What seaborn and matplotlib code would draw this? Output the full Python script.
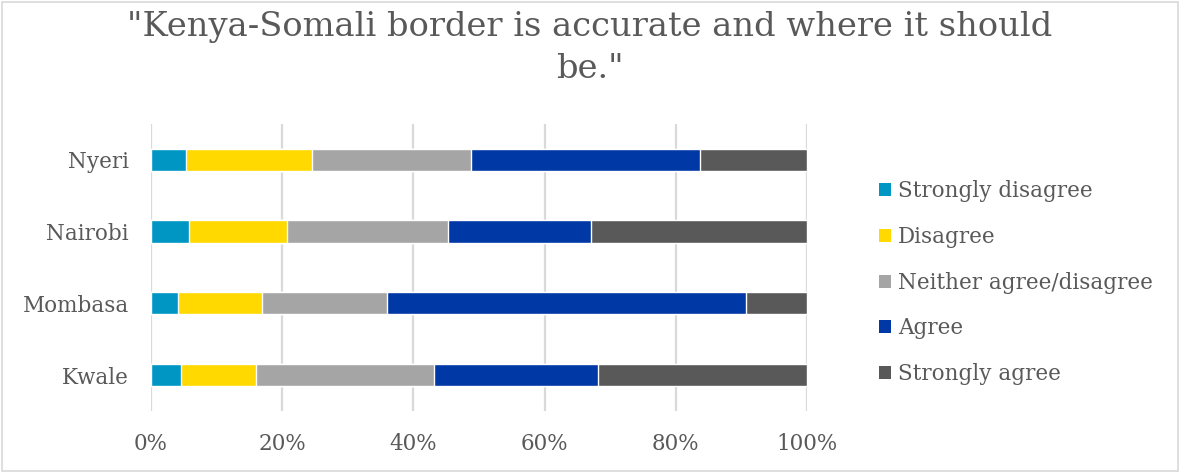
import numpy as np
import pandas as pd
import matplotlib
matplotlib.use("Agg")
import matplotlib.pyplot as plt
from matplotlib.patches import Patch, Rectangle
import seaborn as sns

# Survey responses by county (percent of respondents)
counties = ["Nyeri", "Nairobi", "Mombasa", "Kwale"]
responses = ["Strongly disagree", "Disagree", "Neither agree/disagree",
             "Agree", "Strongly agree"]
strongly_disagree = [5.3, 5.8, 4.1, 4.5]
disagree = [19.2, 14.9, 12.8, 11.5]
neither = [24.2, 24.6, 19.1, 27.2]
agree = [34.9, 21.7, 54.7, 25.0]
strongly_agree = [16.4, 33.0, 9.3, 31.8]
x_ticks = [0, 20, 40, 60, 80, 100]
x_tick_labels = ["0%", "20%", "40%", "60%", "80%", "100%"]
title = '"Kenya-Somali border is accurate and where it should\nbe."'

colors = ["#0096C4", "#FFD900", "#A5A5A5", "#0039A6", "#595959"]
text_color = "#595959"

sns.set_theme(style="white")
plt.rcParams["font.family"] = ["DejaVu Serif"]

df = pd.DataFrame({
    "county": counties,
    "Strongly disagree": strongly_disagree,
    "Disagree": disagree,
    "Neither agree/disagree": neither,
    "Agree": agree,
    "Strongly agree": strongly_agree,
})
# cumulative totals give the right edge of each stacked segment
cum = df[responses].cumsum(axis=1)
cum["county"] = df["county"]

fig = plt.figure(figsize=(11.8, 4.73), dpi=100)
ax = fig.add_axes([0.128, 0.131, 0.556, 0.607])

# draw from the outermost segment inward so each shorter bar sits on top
for resp, col in reversed(list(zip(responses, colors))):
    sns.barplot(data=cum, x=resp, y="county", order=counties, orient="h",
                color=col, width=0.31, saturation=1, ax=ax, zorder=3)

ax.set_xlim(0, 100)
ax.set_ylim(3.5, -0.5)
ax.set_xticks(x_ticks)
ax.set_xticklabels(x_tick_labels)
ax.set_xlabel("")
ax.set_ylabel("")
ax.grid(axis="x", color="#D9D9D9", linewidth=1.6, zorder=0)
ax.grid(axis="y", visible=False)
for s in ax.spines.values():
    s.set_visible(False)
ax.tick_params(axis="x", length=0, pad=16, labelsize=15.5, labelcolor=text_color)
ax.tick_params(axis="y", length=0, pad=16, labelsize=15.5, labelcolor=text_color)

handles = [Patch(facecolor=c, edgecolor="none") for c in colors]
leg = fig.legend(handles, responses, loc="upper left",
                 bbox_to_anchor=(0.738, 0.637), frameon=False,
                 fontsize=15.5, labelcolor=text_color,
                 handlelength=0.55, handleheight=0.55, handletextpad=0.3,
                 labelspacing=1.1, borderaxespad=0)

fig.text(0.5, 1 - 11 / 473, title, ha="center", va="top", fontsize=24.3,
         color=text_color, linespacing=1.38, multialignment="center")

# light frame around the whole chart area
fig.patches.append(Rectangle((0.002, 0.004), 0.996, 0.992, transform=fig.transFigure,
                             fill=False, edgecolor="#D9D9D9", linewidth=1.2))

fig.savefig("out.png", dpi=100, facecolor="white")
